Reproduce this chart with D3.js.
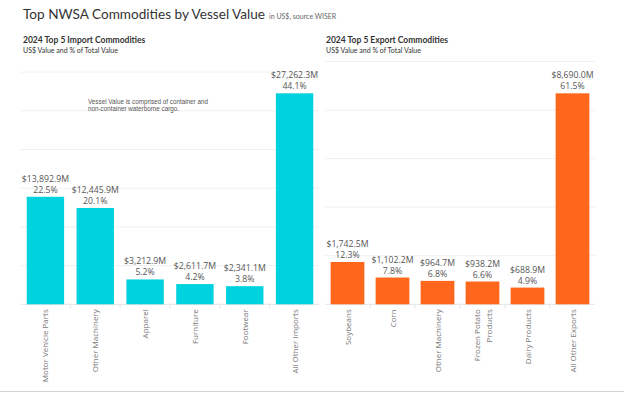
<!DOCTYPE html>
<html>
<head>
  <meta charset="UTF-8">
  <script src="https://d3js.org/d3.v7.min.js"></script>
  <style>
    body { margin: 0; background: #fff; }
    svg { display: block; }
  </style>
</head>
<body>
  <div id="my_dataviz"></div>
  <script>

    // import data (US$ M, % of total)
    var importCats = ["Motor Vehicle Parts", "Other Machinery", "Apparel", "Furniture", "Footwear", "All Other Imports"];
    var importValues = [13892.9, 12445.9, 3212.9, 2611.7, 2341.1, 27262.3];
    var importShares = [22.5, 20.1, 5.2, 4.2, 3.8, 44.1];

    // export data
    var exportCats = ["Soybeans", "Corn", "Other Machinery", "Frozen Potato|Products", "Dairy Products", "All Other Exports"];
    var exportValues = [1742.5, 1102.2, 964.7, 938.2, 688.9, 8690.0];
    var exportShares = [12.3, 7.8, 6.8, 6.6, 4.9, 61.5];

    var importTicks = [5000, 10000, 15000, 20000, 25000, 30000];
    var exportTicks = [2000, 4000, 6000, 8000, 10000];

    var width = 624, height = 393;
    var baseY = 304.3, topY = 61.5;

    var svg = d3.select("#my_dataviz").append("svg")
      .attr("width", width)
      .attr("height", height);

    // title
    var title = svg.append("text")
      .attr("x", 23)
      .attr("y", 19)
      .style("font-family", "Lato, sans-serif")
      .style("fill", "#333");
    title.append("tspan")
      .style("font-size", "13.6px")
      .text("Top NWSA Commodities by Vessel Value");
    title.append("tspan")
      .attr("dx", 4)
      .style("font-size", "7px")
      .style("fill", "#666")
      .text("in US$, source WISER");

    // bottom border
    svg.append("line")
      .attr("x1", 0).attr("x2", width)
      .attr("y1", 391.5).attr("y2", 391.5)
      .style("stroke", "#d4d4d4");

    function drawPanel(opts) {
      var g = svg.append("g");

      g.append("text")
        .attr("x", opts.titleX).attr("y", 42.5)
        .style("font-family", "Lato, sans-serif")
        .style("font-weight", "bold")
        .style("font-size", "8.5px")
        .style("fill", "#333")
        .text(opts.title);
      g.append("text")
        .attr("x", opts.titleX).attr("y", 52.5)
        .style("font-family", "Lato, sans-serif")
        .style("font-size", "7px")
        .style("fill", "#333")
        .text("US$ Value and % of Total Value");

      var x = d3.scaleBand()
        .domain(opts.cats)
        .range(opts.xRange)
        .paddingInner(0.25)
        .paddingOuter(0.125);

      var y = d3.scaleLinear()
        .domain([0, opts.yMax])
        .range([baseY, topY]);

      // gridlines
      g.selectAll(".grid")
        .data(opts.ticks)
        .enter().append("line")
        .attr("x1", opts.xRange[0]).attr("x2", opts.xRange[1])
        .attr("y1", function (d) { return y(d); })
        .attr("y2", function (d) { return y(d); })
        .style("stroke", "#f0f0f0");

      // baseline + separators
      g.append("line")
        .attr("x1", opts.xRange[0]).attr("x2", opts.xRange[1])
        .attr("y1", baseY).attr("y2", baseY)
        .style("stroke", "#e4e4e4");
      g.selectAll(".sep")
        .data(opts.cats.slice(1))
        .enter().append("line")
        .attr("x1", function (d) { return x(d) - x.step() * x.paddingInner() / 2; })
        .attr("x2", function (d) { return x(d) - x.step() * x.paddingInner() / 2; })
        .attr("y1", baseY).attr("y2", baseY + 4)
        .style("stroke", "#e4e4e4");

      // bars
      g.selectAll("rect")
        .data(opts.values)
        .enter().append("rect")
        .attr("x", function (d, i) { return x(opts.cats[i]); })
        .attr("y", function (d) { return y(d); })
        .attr("width", x.bandwidth())
        .attr("height", function (d) { return baseY - y(d); })
        .attr("fill", opts.color);

      // value labels
      var fmt = d3.format(",.1f");
      var lab = g.selectAll(".lab")
        .data(opts.values)
        .enter().append("text")
        .attr("text-anchor", "middle")
        .style("font-family", "'Open Sans', sans-serif")
        .style("font-size", "8.7px")
        .style("fill", "#555");
      lab.append("tspan")
        .attr("x", function (d, i) { return x(opts.cats[i]) + x.bandwidth() / 2; })
        .attr("y", function (d) { return y(d) - 15; })
        .text(function (d) { return "$" + fmt(d) + "M"; });
      lab.append("tspan")
        .attr("x", function (d, i) { return x(opts.cats[i]) + x.bandwidth() / 2; })
        .attr("y", function (d) { return y(d) - 4; })
        .text(function (d, i) { return opts.shares[i].toFixed(1) + "%"; });

      // category labels, rotated
      opts.cats.forEach(function (c) {
        var lines = c.split("|");
        var cx = x(c) + x.bandwidth() / 2;
        lines.forEach(function (line, j) {
          var off = (j - (lines.length - 1) / 2) * 12;
          g.append("text")
            .attr("transform", "translate(" + (cx + off + 3) + "," + (baseY + 5) + ") rotate(-90)")
            .attr("text-anchor", "end")
            .style("font-family", "'Open Sans', sans-serif")
            .style("font-size", "8px")
            .style("fill", "#777")
            .text(line);
        });
      });

      return g;
    }

    var left = drawPanel({
      title: "2024 Top 5 Import Commodities",
      titleX: 23,
      cats: importCats, values: importValues, shares: importShares,
      ticks: importTicks, yMax: 31370,
      xRange: [20.5, 319.5], color: "#00d2e0"
    });

    drawPanel({
      title: "2024 Top 5 Export Commodities",
      titleX: 326,
      cats: exportCats, values: exportValues, shares: exportShares,
      ticks: exportTicks, yMax: 10000,
      xRange: [325, 595], color: "#ff671c"
    });

    // annotation
    var note = left.append("text")
      .style("font-family", "'Liberation Sans', Arial, sans-serif")
      .style("font-size", "6.3px")
      .style("fill", "#555");
    note.append("tspan").attr("x", 88).attr("y", 103.5).text("Vessel Value is comprised of container and");
    note.append("tspan").attr("x", 88).attr("y", 110.5).text("non-container waterborne cargo.");

  </script>
</body>
</html>
